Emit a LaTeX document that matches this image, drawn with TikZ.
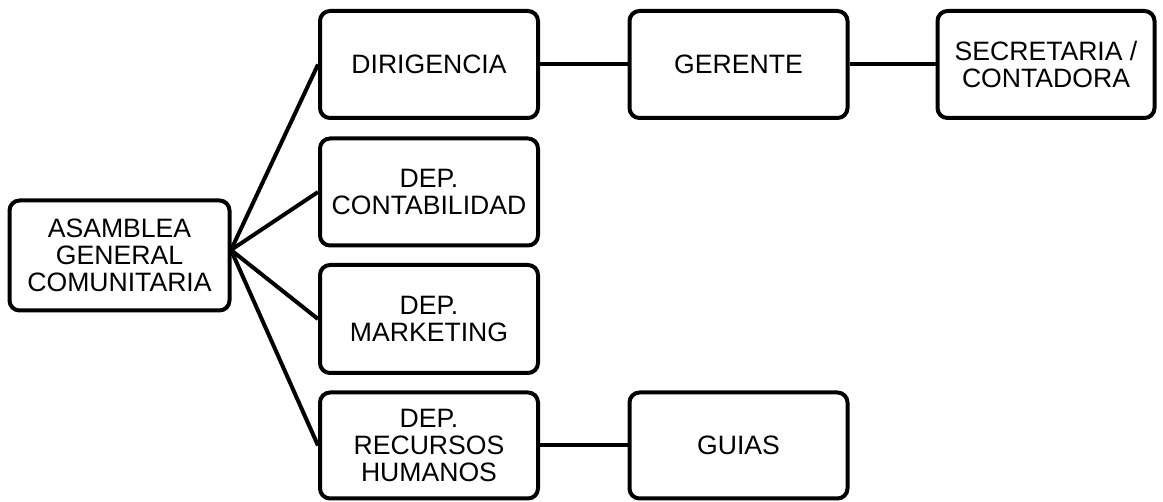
\documentclass[tikz,border=0pt]{standalone}
\usepackage{fontspec}
\setmainfont{Liberation Sans}
\begin{document}
\begin{tikzpicture}[x=1pt,y=-1pt,
  box/.style={draw=black, line width=4pt, rounded corners=10pt, fill=white,
    minimum width=218pt, minimum height=107pt, align=center, inner sep=2pt,
    font=\fontsize{26.6}{27}\selectfont},
  conn/.style={line width=4pt}]
\fill[white] (0,0) rectangle (1163,502);
\useasboundingbox (0,0) rectangle (1163,502);
\node[box, minimum width=220pt, minimum height=110pt] (asam) at (119.5,255.5) {ASAMBLEA\\GENERAL\\COMUNITARIA};
\node[box] (dir) at (429,64.5) {DIRIGENCIA};
\node[box] (cont) at (429,192) {DEP.\\CONTABILIDAD};
\node[box, minimum height=108pt] (mark) at (429,319) {DEP.\\MARKETING};
\node[box, minimum height=106pt] (rec) at (429,445.5) {DEP.\\RECURSOS\\HUMANOS};
\node[box] (ger) at (738.5,64.5) {GERENTE};
\node[box, minimum width=217pt] (sec) at (1046,64.5) {SECRETARIA /\\CONTADORA};
\node[box, minimum height=106pt] (guias) at (738.5,445.5) {GUIAS};
\coordinate (hub) at (231,250);
\draw[conn] (hub) -- (dir.west);
\draw[conn] (hub) -- (cont.west);
\draw[conn] (hub) -- (mark.west);
\draw[conn] (hub) -- (rec.west);
\draw[conn] (dir) -- (ger);
\draw[conn] (ger) -- (sec);
\draw[conn] (rec) -- (guias);
\end{tikzpicture}
\end{document}
